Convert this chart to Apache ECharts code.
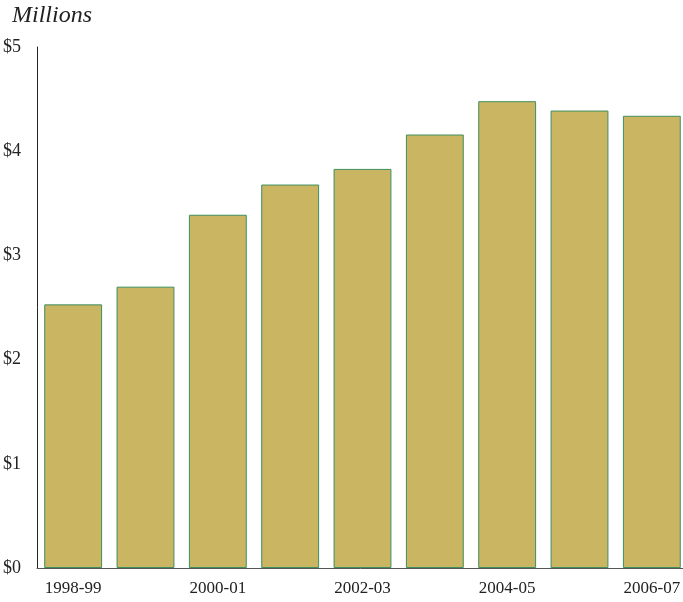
<!DOCTYPE html>
<html>
<head>
<meta charset="utf-8">
<script src="https://cdn.jsdelivr.net/npm/echarts@6/dist/echarts.min.js"></script>
<style>html,body{margin:0;padding:0;background:#fff}#c{width:683px;height:602px}</style>
</head>
<body>
<div id="c"></div>
<script>
var categories = ['1998-99','1999-00','2000-01','2001-02','2002-03','2003-04','2004-05','2005-06','2006-07'];
var values = [2.53, 2.70, 3.39, 3.68, 3.83, 4.16, 4.48, 4.39, 4.34];
var yTicks = [0, 1, 2, 3, 4, 5];
var font = '"Liberation Serif", "DejaVu Serif", serif';
var chart = echarts.init(document.getElementById('c'));
chart.setOption({
  animation: false,
  title: {
    text: 'Millions', left: 7, top: -1,
    textStyle: { fontFamily: font, fontStyle: 'italic', fontWeight: 'normal', fontSize: 24, color: '#222' }
  },
  grid: { left: 37, width: 651, top: 47, bottom: 34, containLabel: false, outerBoundsMode: 'none' },
  xAxis: {
    type: 'category', data: categories,
    axisLine: { lineStyle: { color: '#555', width: 1 } },
    axisTick: { show: false },
    axisLabel: { interval: 1, fontFamily: font, fontSize: 17, color: '#222', margin: 12 }
  },
  yAxis: {
    type: 'value', min: 0, max: 5, interval: 1,
    axisLine: { show: true, lineStyle: { color: '#222', width: 1 } },
    axisTick: { show: false },
    splitLine: { show: false },
    axisLabel: {
      fontFamily: font, fontSize: 18, color: '#222', align: 'left', margin: 34,
      formatter: function (v) { return yTicks.indexOf(v) >= 0 ? '$' + v : ''; }
    }
  },
  series: [{
    type: 'bar', data: values, barCategoryGap: '20%',
    itemStyle: { color: '#c9b562', borderColor: '#3f8f5f', borderWidth: 1 }
  }]
});
</script>
</body>
</html>
